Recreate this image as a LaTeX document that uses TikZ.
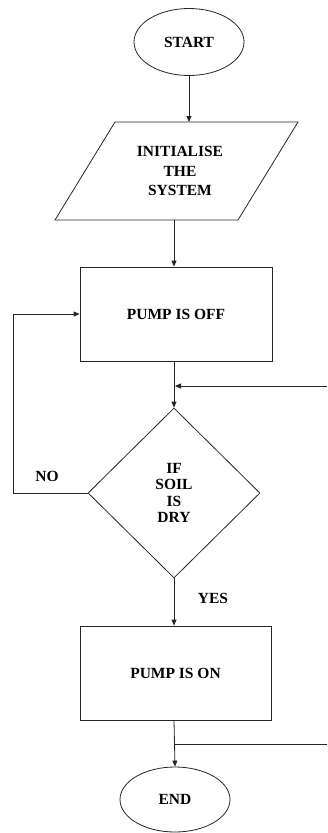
\documentclass[tikz,border=0pt]{standalone}
\usepackage{fontspec}
\setmainfont{Liberation Serif}
\usetikzlibrary{shapes.geometric,arrows.meta}
\begin{document}
\begin{tikzpicture}[x=1pt,y=-1pt,
  line/.style={draw=black!85,line width=0.8pt},
  arr/.style={line,-{Triangle[length=6pt,width=5pt]}},
  lbl/.style={font=\fontsize{15.5}{16.5}\selectfont\bfseries,align=center,inner sep=0pt},
  term/.style={ellipse,line,minimum width=110pt,minimum height=67pt,inner sep=0pt,lbl},
  procbox/.style={rectangle,line,minimum width=192pt,minimum height=94pt,inner sep=0pt,lbl},
  decide/.style={diamond,line,minimum width=172pt,minimum height=170pt,inner sep=0pt,lbl}]
\useasboundingbox (0,0) rectangle (327,833);
% START
\node[term] (start) at (189,42) {START};
% parallelogram
\draw[line] (115,122) -- (298,122) -- (238,220) -- (55,220) -- cycle;
\coordinate (ptop) at (189,122);
\coordinate (pbot) at (174,220);
\node[lbl,font=\fontsize{15.5}{19.5}\selectfont\bfseries] (init) at (180,171) {INITIALISE\\THE\\SYSTEM};
% PUMP IS OFF
\node[procbox] (off) at (176,314) {PUMP IS OFF};
% decision
\node[decide] (dec) at (174,493) {IF\\SOIL\\IS\\DRY};
% PUMP IS ON
\node[procbox,minimum width=191pt] (on) at (175.5,673) {PUMP IS ON};
% END
\node[term,minimum height=65pt] (end) at (175,799.5) {END};
% labels
\node[lbl] (no) at (47,476) {NO};
\node[lbl] (yes) at (213,598) {YES};
% feedback entry points
\coordinate (fb1) at (327,386);
\coordinate (fb2) at (327,744);
% connectors
\draw[arr] (start.south) -- (ptop);
\draw[arr] (pbot) -- (pbot |- off.north);
\draw[arr] (dec.north |- off.south) -- (dec.north);
\draw[arr] (fb1) -- ([xshift=1pt]fb1 -| dec.north);
\draw[arr] (dec.west) -- ++(-74,0) |- (off.west);
\draw[arr] (dec.south) -- (dec.south |- on.north);
\draw[arr] (dec.south |- on.south) -- (end.north);
\draw[line] (fb2) -- (fb2 -| end.north);
\end{tikzpicture}
\end{document}
